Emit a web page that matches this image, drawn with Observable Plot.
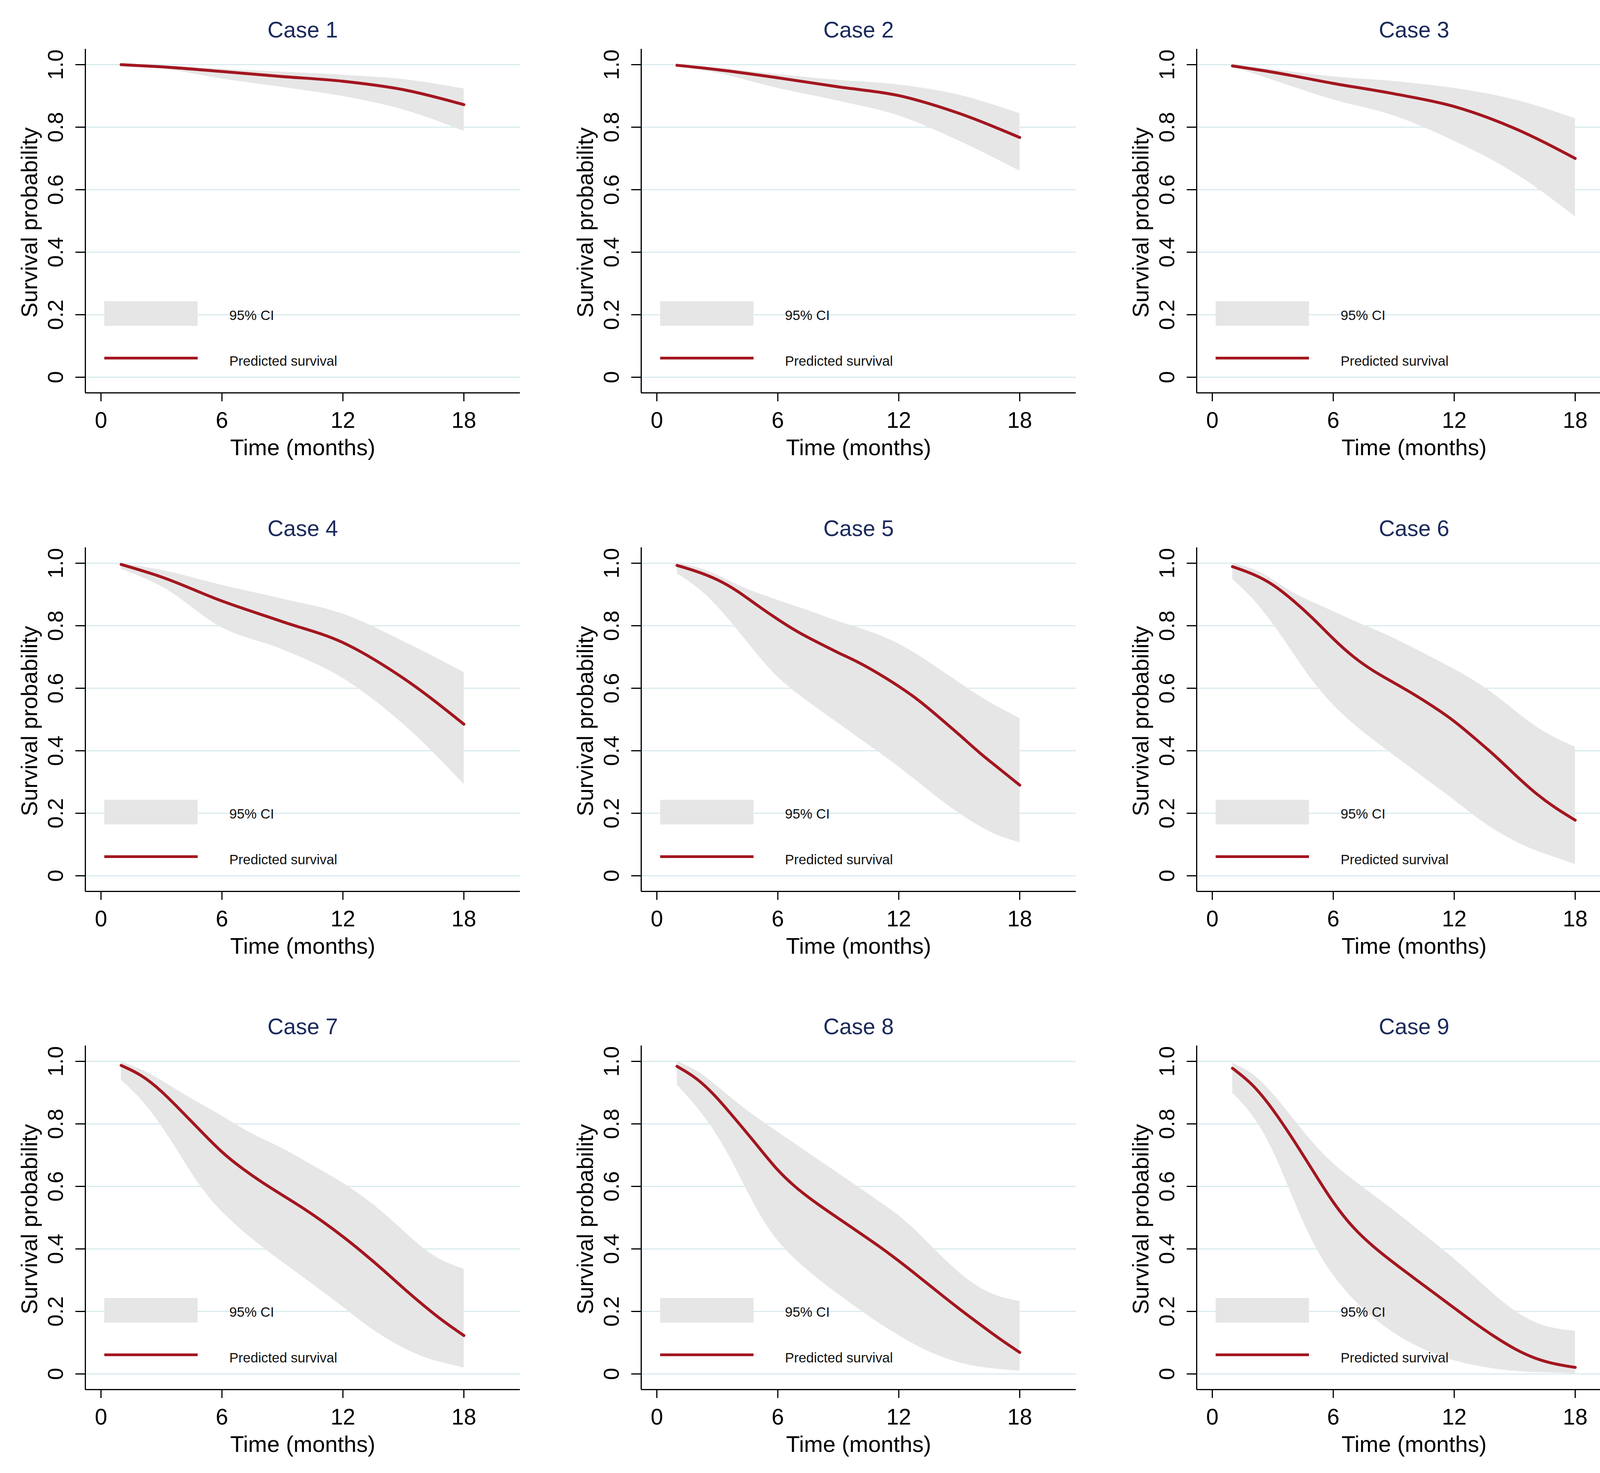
<!DOCTYPE html>
<html>
<head>
<meta charset="utf-8">
<script src="https://cdn.jsdelivr.net/npm/d3@7"></script>
<script src="https://cdn.jsdelivr.net/npm/@observablehq/plot@0.6"></script>
<style>
  html, body { margin: 0; padding: 0; background: #ffffff; }
  #root { position: relative; width: 4239px; height: 3770px; overflow: hidden; background: #fff; font-family: "Liberation Sans", Arial, Helvetica, sans-serif; }
  .panel { position: absolute; width: 1394px; height: 1219px; }
  .lg { position: absolute; }
  .lgtxt { position: absolute; font-size: 35px; line-height: 35px; color: #111; white-space: nowrap; }
</style>
</head>
<body>
<div id="root"></div>
<script>
// ---- data ----
const caseNames = ["Case 1", "Case 2", "Case 3", "Case 4", "Case 5", "Case 6", "Case 7", "Case 8", "Case 9"];
const xTicks = [0, 6, 12, 18];
const yTicks = [0, 0.2, 0.4, 0.6, 0.8, 1.0];
const xLabel = "Time (months)";
const yLabel = "Survival probability";
const legendLabels = ["95% CI", "Predicted survival"];

const tCoarse = [1, 3, 6, 9, 12, 15, 18];
const tFine = [1, 2, 3, 4, 5, 6, 7, 8, 9, 10, 11, 12, 13, 14, 15, 16, 17, 18];

const s1  = [1.000, 0.993, 0.978, 0.962, 0.947, 0.920, 0.872];
const hi1 = [1.000, 0.997, 0.986, 0.977, 0.967, 0.953, 0.923];
const lo1 = [1.000, 0.988, 0.955, 0.928, 0.899, 0.856, 0.788];

const s2  = [0.998, 0.984, 0.958, 0.929, 0.901, 0.844, 0.767];
const hi2 = [1.000, 0.990, 0.969, 0.951, 0.936, 0.903, 0.844];
const lo2 = [0.997, 0.973, 0.925, 0.884, 0.837, 0.756, 0.660];

const s3  = [0.996, 0.976, 0.940, 0.907, 0.866, 0.796, 0.700];
const hi3 = [1.000, 0.985, 0.962, 0.947, 0.925, 0.888, 0.828];
const lo3 = [0.994, 0.951, 0.888, 0.837, 0.756, 0.653, 0.514];

const s4  = [0.996, 0.956, 0.879, 0.813, 0.746, 0.632, 0.485];
const hi4 = [1.000, 0.978, 0.930, 0.886, 0.838, 0.750, 0.651];
const lo4 = [0.982, 0.926, 0.794, 0.724, 0.632, 0.485, 0.293];

const s5  = [0.993, 0.974, 0.949, 0.912, 0.864, 0.820, 0.779, 0.746, 0.713, 0.684, 0.647, 0.607, 0.562, 0.507, 0.452, 0.393, 0.342, 0.290];
const hi5 = [1.000, 0.989, 0.963, 0.930, 0.904, 0.882, 0.860, 0.838, 0.813, 0.794, 0.772, 0.743, 0.706, 0.662, 0.618, 0.574, 0.537, 0.504];
const lo5 = [0.967, 0.926, 0.864, 0.787, 0.706, 0.632, 0.581, 0.533, 0.489, 0.441, 0.397, 0.349, 0.298, 0.246, 0.199, 0.158, 0.125, 0.107];

const s6  = [0.989, 0.967, 0.934, 0.882, 0.824, 0.757, 0.699, 0.654, 0.618, 0.581, 0.540, 0.496, 0.441, 0.386, 0.324, 0.265, 0.217, 0.178];
const hi6 = [1.000, 0.985, 0.949, 0.904, 0.875, 0.846, 0.816, 0.790, 0.761, 0.728, 0.695, 0.662, 0.625, 0.581, 0.529, 0.478, 0.441, 0.412];
const lo6 = [0.949, 0.890, 0.809, 0.713, 0.618, 0.544, 0.485, 0.434, 0.386, 0.338, 0.290, 0.243, 0.191, 0.147, 0.110, 0.081, 0.059, 0.037];

const s7  = [0.987, 0.958, 0.906, 0.840, 0.774, 0.708, 0.657, 0.612, 0.572, 0.532, 0.488, 0.440, 0.388, 0.333, 0.274, 0.219, 0.167, 0.123];
const hi7 = [0.999, 0.976, 0.940, 0.899, 0.862, 0.826, 0.785, 0.752, 0.723, 0.686, 0.649, 0.612, 0.568, 0.517, 0.458, 0.399, 0.358, 0.336];
const lo7 = [0.940, 0.881, 0.796, 0.693, 0.590, 0.517, 0.458, 0.406, 0.358, 0.311, 0.263, 0.215, 0.163, 0.119, 0.082, 0.053, 0.035, 0.020];

const s8  = [0.984, 0.947, 0.884, 0.807, 0.730, 0.649, 0.590, 0.542, 0.498, 0.454, 0.410, 0.362, 0.311, 0.259, 0.208, 0.160, 0.112, 0.069];
const hi8 = [1.000, 0.973, 0.921, 0.866, 0.818, 0.774, 0.730, 0.686, 0.642, 0.598, 0.553, 0.509, 0.450, 0.384, 0.322, 0.274, 0.245, 0.233];
const lo8 = [0.925, 0.855, 0.767, 0.649, 0.517, 0.421, 0.358, 0.303, 0.255, 0.208, 0.163, 0.123, 0.086, 0.057, 0.035, 0.022, 0.015, 0.010];

const s9  = [0.978, 0.929, 0.848, 0.752, 0.649, 0.546, 0.465, 0.406, 0.355, 0.307, 0.259, 0.211, 0.163, 0.119, 0.079, 0.049, 0.031, 0.021];
const hi9 = [0.995, 0.965, 0.899, 0.818, 0.737, 0.671, 0.620, 0.572, 0.524, 0.472, 0.421, 0.369, 0.311, 0.252, 0.200, 0.163, 0.144, 0.138];
const lo9 = [0.899, 0.833, 0.723, 0.561, 0.414, 0.311, 0.237, 0.178, 0.130, 0.093, 0.064, 0.042, 0.027, 0.016, 0.009, 0.005, 0.003, 0.001];

const series = [
  [tCoarse, s1, lo1, hi1], [tCoarse, s2, lo2, hi2], [tCoarse, s3, lo3, hi3],
  [tCoarse, s4, lo4, hi4], [tFine, s5, lo5, hi5], [tFine, s6, lo6, hi6],
  [tFine, s7, lo7, hi7], [tFine, s8, lo8, hi8], [tFine, s9, lo9, hi9]
];

// ---- styling ----
const FONT = '"Liberation Sans", Arial, Helvetica, sans-serif';
const RED = "#a3161f";
const BAND = "#e6e6e6";
const GRID = "#d9ebee";
const NAVY = "#1b2a5b";
const xDomain = [-0.775, 20.79];
const yDomain = [-0.05, 1.05];
const fmtY = d => d === 0 ? "0" : d.toFixed(1);

const root = document.getElementById("root");

series.forEach(([t, s, lo, hi], i) => {
  const col = i % 3, row = Math.floor(i / 3);
  const rows = t.map((tt, k) => ({t: tt, s: s[k], lo: lo[k], hi: hi[k]}));
  const curve = t.length > 10 ? "basis" : "monotone-x";

  const chart = Plot.plot({
    width: 1394,
    height: 1219,
    marginLeft: 218,
    marginRight: 63,
    marginTop: 125,
    marginBottom: 214,
    style: {fontFamily: FONT, color: "#000", background: "#fff", overflow: "visible"},
    x: {domain: xDomain},
    y: {domain: yDomain},
    marks: [
      Plot.gridY(yTicks, {stroke: GRID, strokeOpacity: 1, strokeWidth: 3}),
      Plot.areaY(rows, {x: "t", y1: "lo", y2: "hi", fill: BAND, curve}),
      Plot.lineY(rows, {x: "t", y: "s", stroke: RED, strokeWidth: 7.5, curve}),
      Plot.ruleX([xDomain[0]], {stroke: "#000", strokeWidth: 3}),
      Plot.ruleY([yDomain[0]], {stroke: "#000", strokeWidth: 3}),
      Plot.axisX(xTicks, {tickSize: 22, tickPadding: 27, strokeWidth: 3, fontSize: 57, label: null, tickFormat: d => String(d)}),
      Plot.axisY(yTicks, {tickSize: 25, strokeWidth: 3, fill: "none", label: null}),
      Plot.text(yTicks, {y: d => d, text: fmtY, frameAnchor: "left", dx: -75, rotate: -90, fontSize: 56, textAnchor: "middle", lineAnchor: "middle", fill: "#000"}),
      Plot.text([caseNames[i]], {text: d => d, frameAnchor: "top", dy: -48, fontSize: 57, lineAnchor: "middle", fill: NAVY}),
      Plot.text([xLabel], {text: d => d, frameAnchor: "bottom", dy: 141, fontSize: 58, lineAnchor: "middle", fill: "#000"}),
      Plot.text([yLabel], {text: d => d, frameAnchor: "left", dx: -142, dy: 4, rotate: -90, fontSize: 58, textAnchor: "middle", lineAnchor: "middle", fill: "#000"})
    ]
  });

  const panel = document.createElement("div");
  panel.className = "panel";
  panel.style.left = (col * 1422.5) + "px";
  panel.style.top = (row * 1275.5) + "px";
  panel.appendChild(chart);

  // legend inside the plot region
  const box = document.createElement("div");
  box.className = "lg";
  Object.assign(box.style, {left: "267px", top: "771px", width: "239px", height: "63px", background: BAND});
  const ln = document.createElement("div");
  ln.className = "lg";
  Object.assign(ln.style, {left: "267px", top: "913px", width: "239px", height: "7px", background: RED});
  const t1 = document.createElement("div");
  t1.className = "lgtxt";
  t1.textContent = legendLabels[0];
  Object.assign(t1.style, {left: "587px", top: "789px"});
  const t2 = document.createElement("div");
  t2.className = "lgtxt";
  t2.textContent = legendLabels[1];
  Object.assign(t2.style, {left: "587px", top: "906px"});
  panel.append(box, ln, t1, t2);

  root.appendChild(panel);
});
</script>
</body>
</html>
